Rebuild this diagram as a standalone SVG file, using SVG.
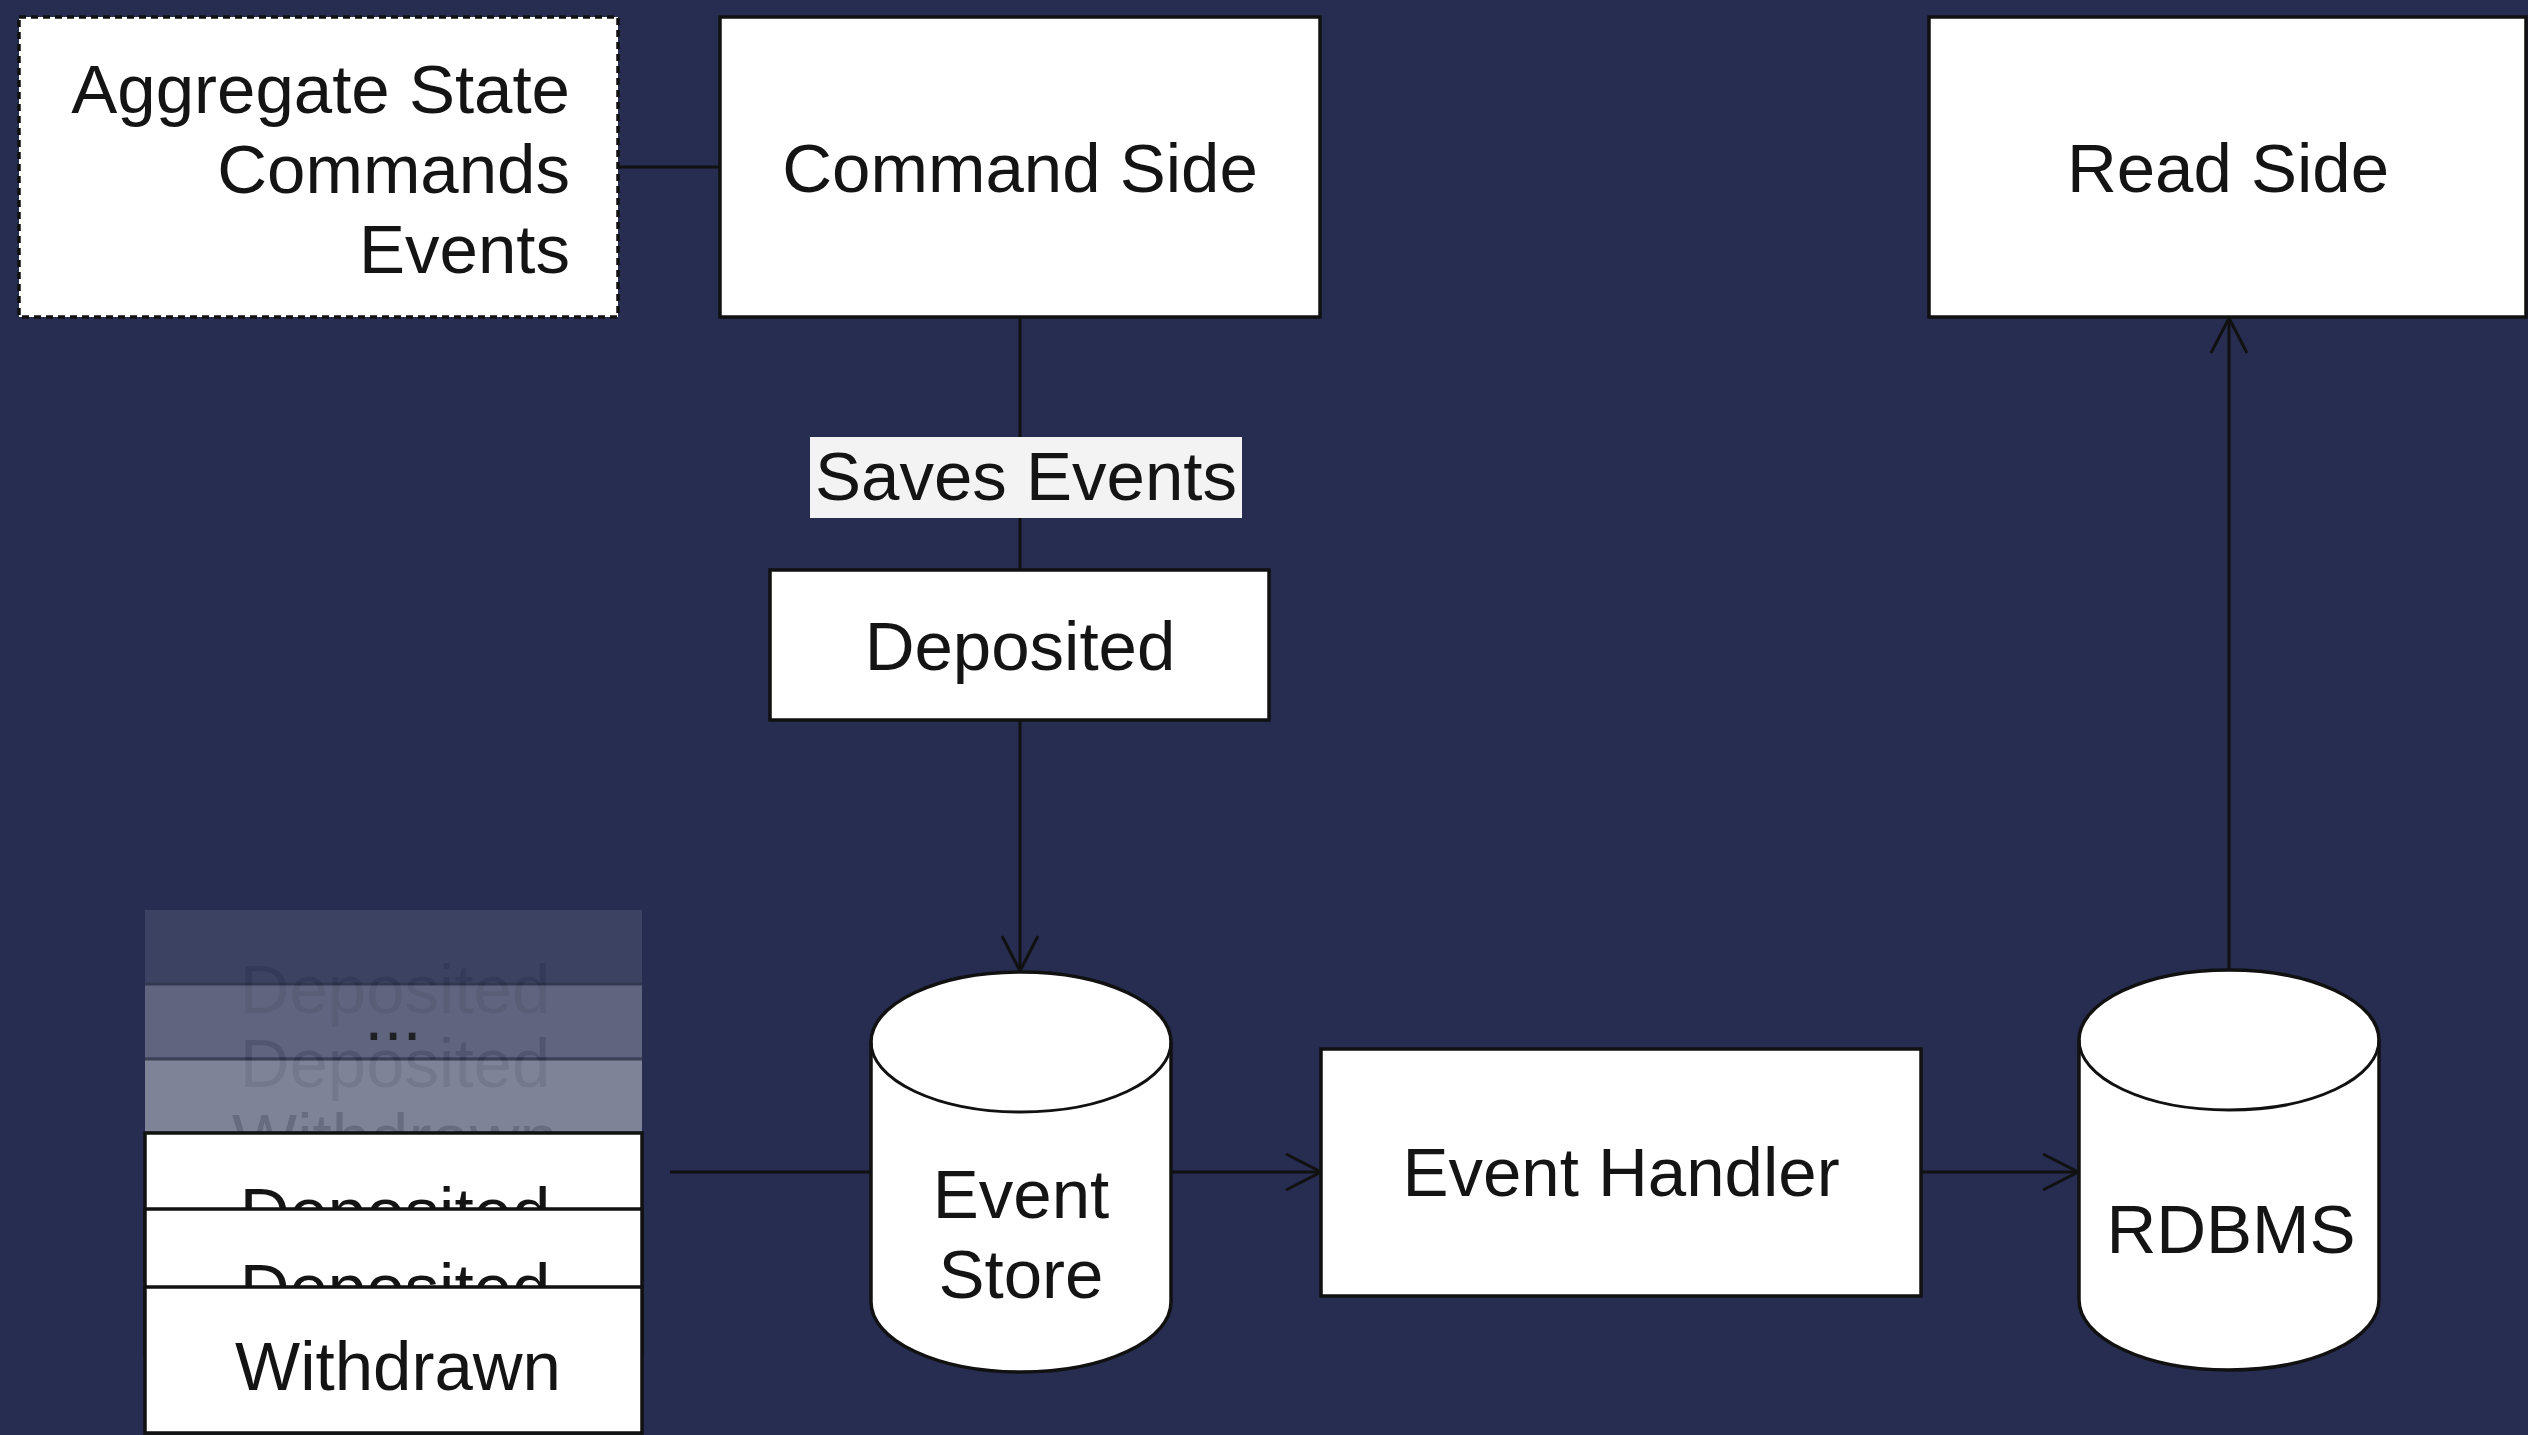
<svg xmlns="http://www.w3.org/2000/svg" width="2528" height="1435" viewBox="0 0 2528 1435">
  <style>
    .box { fill: #ffffff; stroke: #111111; stroke-width: 3.5; }
    .dashed { stroke-dasharray: 7 5; }
    .lbl { font-family: "Liberation Sans", Arial, Helvetica, sans-serif; font-size: 69px; fill: #141414; }
    .mid { text-anchor: middle; }
    .end { text-anchor: end; }
    .ghost { opacity: 0.35; }
    .edge { fill: none; stroke: #111111; stroke-width: 3; }
    .arrow { marker-end: url(#open); }
  </style>
  <defs>
    <marker id="open" markerUnits="userSpaceOnUse" markerWidth="42" markerHeight="42" viewBox="0 0 42 42" refX="39" refY="21" orient="auto">
      <path d="M4,3 L39,21 L4,39" fill="none" stroke="#111111" stroke-width="3"/>
    </marker>
  </defs>

  <rect x="0" y="0" width="2528" height="1435" fill="#262d50"/>

  <g id="connectors">
    <line class="edge" x1="618" y1="167" x2="720" y2="167"/>
    <line class="edge" x1="1020" y1="317" x2="1020" y2="570"/>
    <line class="edge arrow" x1="1020" y1="720" x2="1020" y2="971"/>
    <line class="edge" x1="670" y1="1172" x2="871" y2="1172"/>
    <line class="edge arrow" x1="1171" y1="1172" x2="1321" y2="1172"/>
    <line class="edge arrow" x1="1921" y1="1172" x2="2078" y2="1172"/>
    <line class="edge arrow" x1="2229" y1="969" x2="2229" y2="318"/>
    <g id="label-saves-events">
      <rect x="810" y="437" width="432" height="81" fill="#f3f3f3"/>
      <text class="lbl mid" x="1026" y="500">Saves Events</text>
    </g>
  </g>

  <g id="aggregate-note">
    <rect class="box dashed" x="19" y="17" width="599" height="300"/>
    <text class="lbl end" x="570" y="113">Aggregate State</text>
    <text class="lbl end" x="570" y="193">Commands</text>
    <text class="lbl end" x="570" y="273">Events</text>
  </g>

  <g id="command-side">
    <rect class="box" x="720" y="17" width="600" height="300"/>
    <text class="lbl mid" x="1020" y="192">Command Side</text>
  </g>

  <g id="read-side">
    <rect class="box" x="1929" y="17" width="597" height="300"/>
    <text class="lbl mid" x="2228" y="192">Read Side</text>
  </g>

  <g id="deposited">
    <rect class="box" x="770" y="570" width="499" height="150"/>
    <text class="lbl mid" x="1020" y="670">Deposited</text>
  </g>

  <g id="event-store">
    <path class="box" d="M871,1042 A150,70 0 0 1 1171,1042 L1171,1302 A150,70 0 0 1 871,1302 Z"/>
    <path class="edge" d="M871,1042 A150,70 0 0 0 1171,1042"/>
    <text class="lbl mid" x="1021" y="1218">Event</text>
    <text class="lbl mid" x="1021" y="1298">Store</text>
  </g>

  <g id="event-handler">
    <rect class="box" x="1321" y="1049" width="600" height="247"/>
    <text class="lbl mid" x="1621" y="1196">Event Handler</text>
  </g>

  <g id="rdbms">
    <path class="box" d="M2079,1040 A150,70 0 0 1 2379,1040 L2379,1300 A150,70 0 0 1 2079,1300 Z"/>
    <path class="edge" d="M2079,1040 A150,70 0 0 0 2379,1040"/>
    <text class="lbl mid" x="2231" y="1253">RDBMS</text>
  </g>

  <g id="event-stream">
    <g opacity="0.10">
      <rect x="145" y="910" width="497" height="147" fill="#ffffff"/>
      <text class="lbl mid ghost" x="395" y="1013">Deposited</text>
    </g>
    <g opacity="0.18">
      <rect x="145" y="984" width="497" height="147" fill="#ffffff"/>
      <line x1="145" y1="984" x2="642" y2="984" stroke="#111111" stroke-width="3"/>
      <text class="lbl mid ghost" x="395" y="1087">Deposited</text>
    </g>
    <text class="lbl mid" x="393" y="1040" opacity="0.85">...</text>
    <g opacity="0.28">
      <rect x="145" y="1059" width="497" height="147" fill="#ffffff"/>
      <line x1="145" y1="1059" x2="642" y2="1059" stroke="#111111" stroke-width="3"/>
      <text class="lbl mid ghost" x="395" y="1162">Withdrawn</text>
    </g>
    <g>
      <rect class="box" x="145" y="1133" width="497" height="147"/>
      <text class="lbl mid" x="395" y="1236">Deposited</text>
    </g>
    <g>
      <rect class="box" x="145" y="1209" width="497" height="147"/>
      <text class="lbl mid" x="395" y="1312">Deposited</text>
    </g>
    <g>
      <rect class="box" x="145" y="1287" width="497" height="146"/>
      <text class="lbl mid" x="398" y="1390">Withdrawn</text>
    </g>
  </g>
</svg>
